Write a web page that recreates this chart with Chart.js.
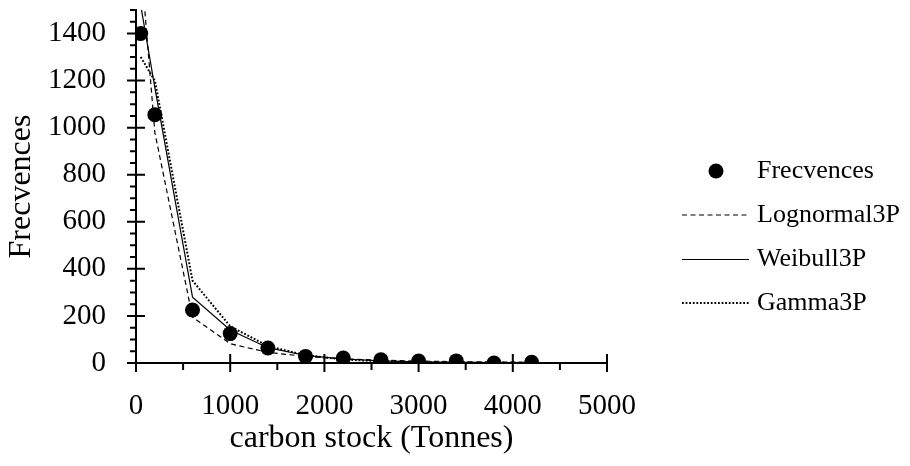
<!DOCTYPE html>
<html>
<head>
<meta charset="utf-8">
<script src="https://cdn.jsdelivr.net/npm/chart.js@4"></script>
<style>
html,body{margin:0;padding:0;background:#fff;}
#wrap{width:910px;height:466px;}
</style>
</head>
<body>
<div id="wrap"><canvas id="c" width="910" height="466"></canvas></div>
<script>
// class centres of carbon stock (Tonnes)
const stock = [50, 200, 600, 1000, 1400, 1800, 2200, 2600, 3000, 3400, 3800, 4200];
// observed frequencies
const frecvences = [1400, 1055, 225, 125, 64, 28, 21, 14, 8, 9, 0, 3];
// fitted curves
const lognormal3P = [1710, 980, 195, 82, 45, 28, 18, 12, 8, 6, 4, 3];
const weibull3P = [1520, 1170, 280, 140, 65, 32, 17, 9, 5, 3, 2, 1];
const gamma3P = [1300, 1200, 350, 156, 72, 33, 15, 7, 3, 2, 1, 0.5];

const xTicks = [0, 1000, 2000, 3000, 4000, 5000];
const yTicks = [0, 200, 400, 600, 800, 1000, 1200, 1400];

const FONT = "'Liberation Serif', 'Times New Roman', serif";
const pts = ys => stock.map((x, i) => ({x, y: ys[i]}));

// tick marks: major ones cross the axis, minor ones only outside
const tickMarks = {
  id: 'tickMarks',
  afterDraw(chart){
    const {ctx, chartArea: a, scales: {x, y}} = chart;
    ctx.save();
    ctx.strokeStyle = '#000'; ctx.lineWidth = 2;
    ctx.beginPath();
    for (let v = 0; v <= 5000; v += 500){
      const px = x.getPixelForValue(v);
      const major = v % 1000 === 0;
      ctx.moveTo(px, a.bottom - (major ? 9 : 0));
      ctx.lineTo(px, a.bottom + (major ? 9 : 7));
    }
    for (let v = 0; v <= 1500; v += 50){
      const py = y.getPixelForValue(v);
      const major = v % 200 === 0 && v <= 1400;
      ctx.moveTo(a.left - (major ? 9 : 6), py);
      ctx.lineTo(a.left + (major ? 9 : 0), py);
    }
    ctx.stroke();
    ctx.restore();
  }
};

// legend on the right, drawn from the datasets
const sideLegend = {
  id: 'sideLegend',
  afterDraw(chart){
    const {ctx} = chart;
    const rows = [171, 215, 259.5, 303];
    ctx.save();
    ctx.font = '26px ' + FONT;
    ctx.textBaseline = 'middle';
    ctx.fillStyle = '#000';
    chart.data.datasets.forEach((ds, i) => {
      const yy = rows[i];
      if (ds.showLine){
        ctx.strokeStyle = ds.borderColor;
        ctx.lineWidth = ds.borderWidth;
        ctx.setLineDash(ds.borderDash || []);
        ctx.beginPath(); ctx.moveTo(682, yy); ctx.lineTo(749, yy); ctx.stroke();
        ctx.setLineDash([]);
      } else {
        ctx.beginPath(); ctx.arc(716, yy, 7.5, 0, Math.PI * 2); ctx.fill();
      }
      ctx.fillText(ds.label, 757, yy);
    });
    ctx.restore();
  }
};

new Chart(document.getElementById('c'), {
  type: 'scatter',
  data: {
    datasets: [
      { label: 'Frecvences', data: pts(frecvences), showLine: false,
        pointRadius: 7.5, pointBackgroundColor: '#000', pointBorderWidth: 0 },
      { label: 'Lognormal3P', data: pts(lognormal3P), showLine: true, pointRadius: 0,
        borderColor: '#000', borderWidth: 1.2, borderDash: [5, 3.5] },
      { label: 'Weibull3P', data: pts(weibull3P), showLine: true, pointRadius: 0,
        borderColor: '#000', borderWidth: 1.2 },
      { label: 'Gamma3P', data: pts(gamma3P), showLine: true, pointRadius: 0,
        borderColor: '#000', borderWidth: 2, borderDash: [1.8, 1.8] },
    ]
  },
  options: {
    responsive: false,
    devicePixelRatio: 1,
    animation: false,
    layout: { padding: { left: 0, right: 303, top: 10, bottom: 0 } },
    plugins: { legend: { display: false }, tooltip: { enabled: false } },
    scales: {
      x: {
        type: 'linear', min: 0, max: 5000,
        afterBuildTicks: s => { s.ticks = xTicks.map(v => ({value: v})); },
        afterFit: s => { s.height = 103; s.paddingLeft = 0; s.paddingRight = 0; },
        grid: { display: false, drawTicks: false },
        border: { display: true, color: '#000', width: 2 },
        ticks: { color: '#000', padding: 26, maxRotation: 0, callback: v => String(v),
          font: { family: FONT, size: 29 } },
        title: { display: true, text: 'carbon stock (Tonnes)', color: '#000',
          padding: { top: 0, bottom: 8 }, font: { family: FONT, size: 32 } }
      },
      y: {
        type: 'linear', min: 0, max: 1500,
        afterBuildTicks: s => { s.ticks = yTicks.map(v => ({value: v})); },
        afterFit: s => { s.width = 136; s.paddingTop = 0; s.paddingBottom = 0; },
        grid: { display: false, drawTicks: false },
        border: { display: true, color: '#000', width: 2 },
        ticks: { color: '#000', padding: 30, callback: v => String(v),
          font: { family: FONT, size: 29 } },
        title: { display: true, text: 'Frecvences', color: '#000',
          padding: { top: 2, bottom: 0 }, font: { family: FONT, size: 32 } }
      }
    }
  },
  plugins: [tickMarks, sideLegend]
});
</script>
</body>
</html>
